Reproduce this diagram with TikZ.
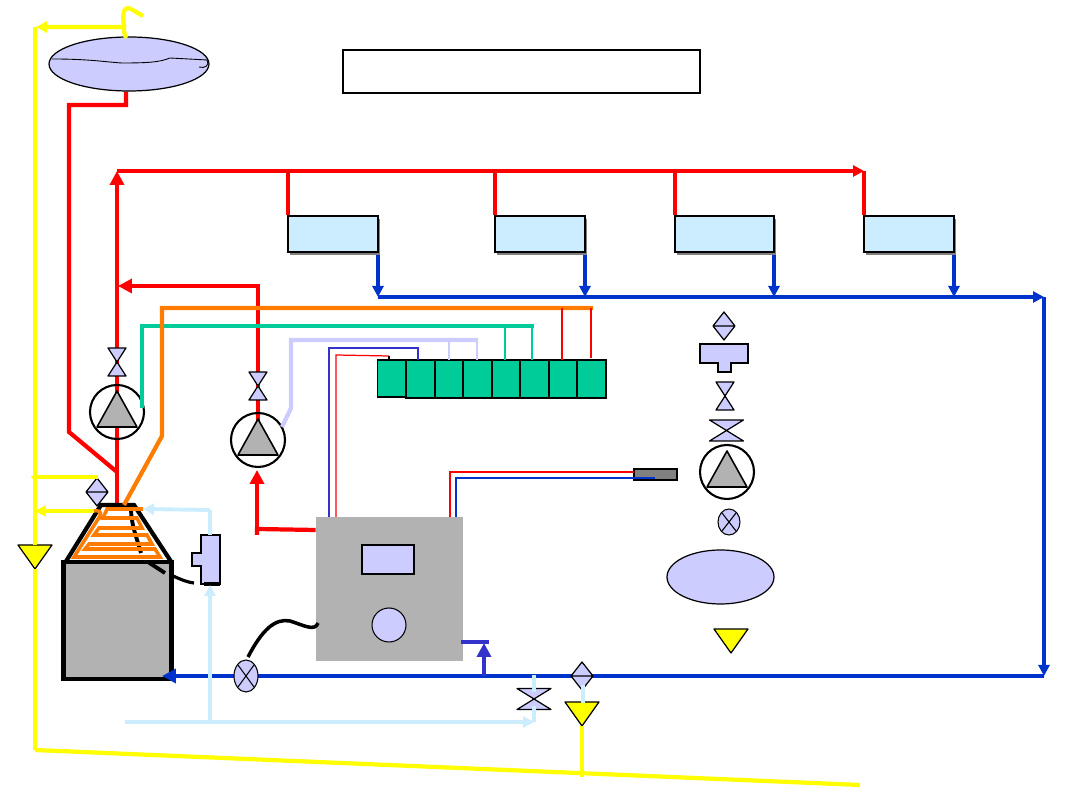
\documentclass[tikz,border=0pt]{standalone}
\usetikzlibrary{arrows.meta}
\usetikzlibrary{backgrounds}
\usetikzlibrary{shadows}
\usetikzlibrary{shapes.geometric}

\definecolor{lilac}{HTML}{CCCCFF}
\definecolor{palesky}{HTML}{CCECFF}
\definecolor{mgray}{HTML}{B2B2B2}
\definecolor{teal}{HTML}{00CC99}
\definecolor{hotred}{HTML}{FF0000}
\definecolor{orangepipe}{HTML}{FF7C00}
\definecolor{returnblue}{HTML}{0033CC}
\definecolor{signalblue}{HTML}{3333CC}
\definecolor{vent}{HTML}{FFFF00}

\tikzset{
	bigtip/.tip={Triangle[length=2.8mm,width=2.8mm]},
	smalltip/.tip={Triangle[length=2.2mm,width=2.2mm]},
	redpipe/.style={draw=hotred,line width=2.4pt},
	bluepipe/.style={draw=returnblue,line width=2.4pt},
	yellowpipe/.style={draw=vent,line width=2.4pt},
	skypipe/.style={draw=palesky,line width=2.2pt},
	orangepipe/.style={draw=orangepipe,line width=2.4pt},
	lilacpipe/.style={draw=lilac,line width=2.4pt},
	tealpipe/.style={draw=teal,line width=2.4pt},
	thinwire/.style={line width=0.7pt},
	unitbox/.style={draw,line width=0.8pt,fill=palesky,inner sep=0pt,minimum height=0.72cm,
		drop shadow={opacity=1,fill=gray,shadow xshift=0.45mm,shadow yshift=-0.7mm}},
	cellbox/.style={draw,line width=1.3pt,fill=teal,inner sep=0pt,minimum width=0.57cm,minimum height=0.76cm},
	tankbox/.style={ellipse,draw,line width=0.7pt,fill=lilac,inner sep=0pt},
	pumpring/.style={circle,draw,line width=1.2pt,inner sep=0pt,minimum size=1.08cm},
	crossvalve/.pic={
		\draw[line width=0.6pt,fill=lilac] (0,0) ellipse (#1);
	},
	hourglass/.pic={
		\draw[line width=0.7pt,fill=lilac,line join=round] (-9,-14) -- (9,-14) -- (-9,14) -- (9,14) -- cycle;
	},
	bowtie/.pic={
		\draw[line width=0.7pt,fill=lilac,line join=round] (-17,-10.5) -- (17,-10.5) -- (-17,10.5) -- (17,10.5) -- cycle;
	},
	sightglass/.pic={
		\draw[line width=0.7pt,fill=lilac,line join=round] (-11,0) -- (0,-14) -- (11,0) -- (0,14) -- cycle (-11,0) -- (11,0);
	},
	pumpmark/.pic={
		\draw[line width=0.9pt,fill=mgray,line join=round] (0,-21) -- (20,15) -- (-20,15) -- cycle;
	},
	trapmark/.pic={
		\draw[line width=0.7pt,fill=vent,line join=round] (-17,-12) -- (17,-12) -- (0,12) -- cycle;
	},
}

\begin{document}
\begin{tikzpicture}[x=0.02cm,y=-0.02cm]
	\useasboundingbox (0,0) rectangle (1080,810);

	% header tank and title frame
	\node[tankbox,minimum width=3.2cm,minimum height=1.08cm] (tank) at (129,64) {};
	\draw[line width=0.5pt] (52,59) .. controls (90,59) and (105,62) .. (122,63) .. controls (150,63) and (160,62) .. (170,58) -- (207,60) .. controls (210,65) and (205,69) .. (199,67);
	\node[draw,line width=0.7pt,inner sep=0pt,minimum width=7.14cm,minimum height=0.86cm] (title) at (521.5,71.5) {};

	% fan coil units
	\node[unitbox,minimum width=1.8cm] (unitA) at (333,234) {};
	\node[unitbox,minimum width=1.8cm] (unitB) at (540,234) {};
	\node[unitbox,minimum width=1.98cm] (unitC) at (724.5,234) {};
	\node[unitbox,minimum width=1.8cm] (unitD) at (909,234) {};

	% control cells
	\foreach \cell/\cx in {B/420.5,C/449,D/477.5,E/506,F/534.5,G/563,H/591.5}
		\node[cellbox] (cell\cell) at (\cx,379) {};
	\node[cellbox,line width=0.8pt,minimum height=0.74cm] (cellA) at (391.5,378.5) {};

	% controller with its panel
	\node[fill=mgray,inner sep=0pt,minimum width=2.94cm,minimum height=2.88cm] (ctrl) at (389.5,589) {};
	\node[draw,line width=0.6pt,fill=lilac,inner sep=0pt,minimum width=1.04cm,minimum height=0.58cm] (panel) at (388,559.5) {};
	\node[circle,draw,line width=0.6pt,fill=lilac,inner sep=0pt,minimum size=0.68cm] (dial) at (389,625) {};
	\node[draw,line width=0.7pt,fill=gray,inner sep=0pt,minimum width=0.86cm,minimum height=0.22cm] (probe) at (655.5,474.5) {};
	\node[tankbox,minimum width=2.14cm,minimum height=1.08cm] (drum) at (720.5,577) {};

	% boiler body and hood
	\node[draw,line width=2.4pt,fill=mgray,inner sep=0pt,minimum width=2.16cm,minimum height=2.34cm] (boiler) at (117.5,620.5) {};
	\draw[line width=2.4pt] (65,563) -- (101,505) -- (134,505) -- (172,563);
	\draw[line width=2.2pt] (131,507) .. controls (131,525) and (136,535) .. (141,553);
	\draw[line width=2.2pt] (148,562) -- (165,573);
	\draw[line width=1.8pt] (173,576) .. controls (180,579) and (186,582) .. (194,583);
	\draw[orangepipe,line width=2pt] (143,509) -- (107,509) -- (103,518) -- (137,518) -- (142,528) -- (99,528) -- (94,535) -- (147,535) -- (152,544) -- (89,544) -- (85,549) -- (155,549) -- (160,557) -- (74,557) -- (100,516) .. controls (102,511) and (98,510) .. (92,511);

	% coordinates for the pipe runs
	\coordinate (tankOut) at (126,105);
	\coordinate (riserTurn) at (69,105);
	\coordinate (riserKnee) at (69,432);
	\coordinate (riserFoot) at (117,472);
	\coordinate (mainTop) at (117,171);
	\coordinate (mainEnd) at (864,171);
	\coordinate (hoodTop) at (117,505);
	\coordinate (dropA) at (288,171);
	\coordinate (dropB) at (495,171);
	\coordinate (dropC) at (675,171);
	\coordinate (backA) at (378,297);
	\coordinate (backB) at (585,297);
	\coordinate (backC) at (774,297);
	\coordinate (backD) at (954,297);
	\coordinate (backEnd) at (1044,297);
	\coordinate (backLow) at (1044,676);
	\coordinate (boilerIn) at (162,676);

	% valves, pumps and traps on top of their lines
	\coordinate (valveA) at (117,362);
	\coordinate (valveB) at (258,386);
	\coordinate (pumpAc) at (117,412);
	\coordinate (pumpBc) at (258,440);
	\node[pumpring] (pumpA) at (pumpAc) {};
	\node[pumpring] (pumpB) at (pumpBc) {};
	\node[pumpring] (pumpC) at (727,472) {};

	\begin{scope}[on background layer]
		\draw[redpipe] (tankOut |- tank.south) -- (tankOut) -- (riserTurn) -- (riserKnee) -- (riserFoot);
		\draw[redpipe,-bigtip] (hoodTop) -- (mainTop);
		\draw[redpipe,-smalltip] (mainTop) -- (mainEnd);
		\draw[redpipe] (dropA) -- (dropA |- unitA.north);
		\draw[redpipe] (dropB) -- (dropB |- unitB.north);
		\draw[redpipe] (dropC) -- (dropC |- unitC.north);
		\draw[redpipe] (mainEnd) -- (mainEnd |- unitD.north);
		\draw[redpipe,-bigtip] (pumpB.center) -- (258,286) -- (118,286);
		\draw[bluepipe,-smalltip] (backA |- unitA.south) -- (backA);
		\draw[bluepipe,-smalltip] (backB |- unitB.south) -- (backB);
		\draw[bluepipe,-smalltip] (backC |- unitC.south) -- (backC);
		\draw[bluepipe,-smalltip] (backD |- unitD.south) -- (backD);
		\draw[bluepipe,-smalltip] (backA) -- (backEnd);
		\draw[bluepipe,-smalltip] (backEnd) -- (backLow);
	\end{scope}
	\draw[bluepipe,-bigtip] (backLow) -- (boilerIn);

	\pic at (valveA) {hourglass};
	\pic at (valveB) {hourglass};
	\pic at (pumpAc) {pumpmark};
	\pic at (pumpBc) {pumpmark};
	\pic at (pumpC) {pumpmark};
	\pic at (97,492) {sightglass};
	\pic at (582,676) {sightglass};
	\pic at (724,326) {sightglass};
	\pic at (725,396) {hourglass};
	\pic at (726.5,430.5) {bowtie};
	\pic at (534,699) {bowtie};
	\pic at (35,557) {trapmark};
	\pic at (582,714) {trapmark};
	\pic at (731,641) {trapmark};

	% expansion fittings
	\draw[line width=1.2pt,fill=lilac] (201,535) -- (220,535) -- (220,584) -- (201,584) -- (201,566) -- (192,566) -- (192,553) -- (201,553) -- cycle;
	\draw[line width=2.4pt] (204,584) -- (220,584);
	\draw[line width=1.2pt,fill=lilac] (700,344) -- (748,344) -- (748,363) -- (731,363) -- (731,372) -- (718,372) -- (718,363) -- (700,363) -- cycle;

	% cross valves
	\pic at (246,676) {crossvalve={12 and 16}};
	\draw[line width=0.6pt] (238,665) -- (254,687) (254,665) -- (238,687);
	\pic at (729,522) {crossvalve={11 and 13}};
	\draw[line width=0.6pt] (722,513) -- (736,531) (736,513) -- (722,531);

	% vent lines
	\draw[yellowpipe] (35,750) -- (35,569);
	\draw[yellowpipe,-smalltip] (126,38) .. controls (123,30) and (124,29) .. (124,27) -- (36,27);
	\draw[yellowpipe] (35,27) -- (35,545);
	\draw[yellowpipe] (124,27) .. controls (122,12) and (124,6) .. (131,9) -- (143,16);
	\draw[yellowpipe] (98,477) -- (35,477);
	\fill[vent] (31,476) -- (39,476) -- (35,483) -- cycle;
	\draw[yellowpipe,-smalltip,line width=2pt] (94,511) -- (35,511);
	\draw[yellowpipe] (35,750) -- (860,785);
	\draw[yellowpipe] (582,726) -- (582,777);

	% feed water
	\coordinate (feedJoin) at (210,722);
	\draw[skypipe,-smalltip] (125,722) -- (534,722);
	\draw[skypipe,-smalltip] (feedJoin) -- (210,585);
	\draw[skypipe] (210,535) -- (210,510);
	\draw[skypipe,-smalltip] (210,510) -- (143,509);
	\draw[skypipe] (534,722) -- (534,706);
	\draw[skypipe] (534,692) -- (534,675);
	\draw[skypipe] (583,685) -- (583,703);

	% return into the boiler and controller
	\draw[signalblue,line width=2.4pt] (461,642) -- (489,642);
	\draw[signalblue,line width=2.4pt,-bigtip] (484,676) -- (484,643);
	\draw[redpipe] (ctrl.west |- 0,530) -- (257,529) -- (257,535);
	\draw[redpipe,-bigtip] (257,534) -- (257,470);
	\draw[line width=2pt] (248,657) .. controls (262,630) and (275,618) .. (290,621) .. controls (303,625) and (315,632) .. (318,623);

	% pump signal lines
	\draw[tealpipe] (142,408) -- (142,326) -- (534,326);
	\draw[teal,thinwire] (505,326) -- (505,360);
	\draw[teal,thinwire] (532,326) -- (532,360);
	\draw[orangepipe] (124,505) -- (162,436) -- (162,308) -- (593,308);
	\draw[hotred,thinwire] (562,308) -- (562,360);
	\draw[hotred,line width=1pt] (591,308) -- (591,358);
	\draw[lilacpipe] (282,427) -- (291,408) -- (291,340) -- (478,340);
	\draw[lilac,thinwire] (449,340) -- (449,360);
	\draw[lilac,line width=1pt] (477,340) -- (477,360);
	\draw[signalblue,thinwire] (329,517) -- (329,348) -- (418,348) -- (418,360);
	\draw[hotred,thinwire] (336,517) -- (336,355) -- (389,356);
	\draw[thinwire] (389,356) -- (389,360);
	\draw[hotred,thinwire] (450,517) -- (450,472) -- (634,472);
	\draw[returnblue,thinwire] (456,517) -- (456,478) -- (655,478);
\end{tikzpicture}
\end{document}
